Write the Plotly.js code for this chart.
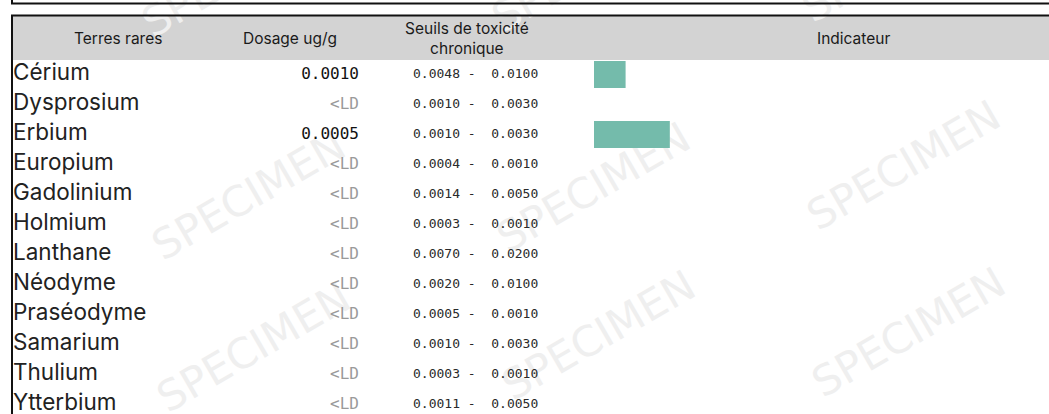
<!DOCTYPE html>
<html>
<head>
<meta charset="utf-8">
<script src="https://cdn.plot.ly/plotly-3.0.1.min.js"></script>
<style>html,body{margin:0;padding:0;background:#fff;}#chart{width:1049px;height:414px;}</style>
</head>
<body>
<div id="chart"></div>
<script>
// ---- data ----
const elements = ["Cérium","Dysprosium","Erbium","Europium","Gadolinium","Holmium","Lanthane","Néodyme","Praséodyme","Samarium","Thulium","Ytterbium"];
const dosage = [0.0010, null, 0.0005, null, null, null, null, null, null, null, null, null]; // null = <LD
const seuilMin = [0.0048, 0.0010, 0.0010, 0.0004, 0.0014, 0.0003, 0.0070, 0.0020, 0.0005, 0.0010, 0.0003, 0.0011];
const seuilMax = [0.0100, 0.0030, 0.0030, 0.0010, 0.0050, 0.0010, 0.0200, 0.0100, 0.0010, 0.0030, 0.0010, 0.0050];
const headers = ["Terres rares", "Dosage ug/g", "Seuils de toxicité<br>chronique", "Indicateur"];
const watermark = "SPECIMEN";

// ---- layout constants (pixels) ----
const W = 1049, H = 414;
const ROW = 30, FIRST = 74.5;           // row pitch, centre of first row
const yTop = -FIRST / ROW, yBot = (H - FIRST) / ROW;

const MAIN = "Inter, 'DejaVu Sans', sans-serif";
const MONO = "'DejaVu Sans Mono', monospace";

const indicator = dosage.map((d, i) => d === null ? 0 : d / seuilMin[i]);
const dosageText = dosage.map(d => d === null ? "&lt;LD" : d.toFixed(4));
const dosageColor = dosage.map(d => d === null ? "#9a9a9a" : "#111111");
const seuilText = seuilMin.map((m, i) => m.toFixed(4) + " -\u00a0\u00a0" + seuilMax[i].toFixed(4));

const traces = [
  {type: "scatter", mode: "text", x: elements.map(() => 13), y: elements, text: elements,
   textposition: "middle right", textfont: {family: MAIN, size: 22.5, color: "#222"}, hoverinfo: "skip", cliponaxis: false},
  {type: "scatter", mode: "text", x: elements.map(() => 359), y: elements, text: dosageText,
   textposition: "middle left", textfont: {family: MONO, size: 16, color: dosageColor}, hoverinfo: "skip", cliponaxis: false},
  {type: "scatter", mode: "text", x: elements.map(() => 413), y: elements, text: seuilText,
   textposition: "middle right", textfont: {family: MONO, size: 13, color: "#2a2a2a"}, hoverinfo: "skip", cliponaxis: false},
  {type: "bar", orientation: "h", x: indicator, y: elements, xaxis: "x2", yaxis: "y",
   marker: {color: "#74bbab"}, width: 0.9, hoverinfo: "skip"}
];

// watermark as svg image
const wmPos = [[240,-25],[590,-30],[900,-40],[250,198],[595,190],[905,168],[255,350],[600,338],[910,335]];
let svg = '<svg xmlns="http://www.w3.org/2000/svg" width="' + W + '" height="' + H + '">';
wmPos.forEach(p => {
  svg += '<text x="' + p[0] + '" y="' + p[1] + '" text-anchor="middle" dominant-baseline="middle" font-family="DejaVu Sans, sans-serif" font-size="42" fill="#efefef" transform="rotate(-30 ' + p[0] + ' ' + p[1] + ')">' + watermark + '</text>';
});
svg += '</svg>';
const svgUri = "data:image/svg+xml;charset=utf-8," + encodeURIComponent(svg);

const hdrY = 38;
const annotations = [
  {text: headers[0], x: 118, y: H - hdrY},
  {text: headers[1], x: 290, y: H - hdrY},
  {text: headers[2], x: 467, y: H - hdrY},
  {text: headers[3], x: 853, y: H - hdrY}
].map(a => Object.assign(a, {xref: "x", yref: "y3", showarrow: false, xanchor: "center", yanchor: "middle",
  font: {family: MAIN, size: 15.5, color: "#1a1a1a"}}));

const layout = {
  width: W, height: H,
  margin: {l: 0, r: 0, t: 0, b: 0, pad: 0},
  paper_bgcolor: "#fff", plot_bgcolor: "rgba(0,0,0,0)",
  showlegend: false,
  xaxis: {range: [0, W], domain: [0, 1], visible: false, fixedrange: true},
  xaxis2: {range: [0, 3], domain: [594 / W, 1], anchor: "y", visible: false, fixedrange: true},
  yaxis: {type: "category", categoryarray: elements, range: [yBot, yTop], visible: false, fixedrange: true},
  yaxis3: {range: [0, H], domain: [0, 1], overlaying: "y", anchor: "x", visible: false, fixedrange: true},
  shapes: [
    {type: "rect", xref: "paper", yref: "paper", x0: 13 / W, x1: 1, y0: 1 - 60 / H, y1: 1 - 16 / H,
     fillcolor: "#d3d3d3", line: {width: 0}, layer: "below"},
    {type: "line", xref: "paper", yref: "paper", x0: 11 / W, x1: 1, y0: 1 - 3.5 / H, y1: 1 - 3.5 / H, line: {color: "#111", width: 2}},
    {type: "line", xref: "paper", yref: "paper", x0: 12 / W, x1: 12 / W, y0: 1, y1: 1 - 4 / H, line: {color: "#111", width: 2}},
    {type: "line", xref: "paper", yref: "paper", x0: 11 / W, x1: 1, y0: 1 - 15.5 / H, y1: 1 - 15.5 / H, line: {color: "#111", width: 2}},
    {type: "line", xref: "paper", yref: "paper", x0: 12 / W, x1: 12 / W, y0: 1 - 15 / H, y1: 0, line: {color: "#111", width: 2}}
  ],
  images: [{source: svgUri, xref: "x", yref: "y", x: 0, y: yTop, sizex: W, sizey: H / ROW,
    xanchor: "left", yanchor: "top", sizing: "stretch", layer: "below"}],
  annotations: annotations
};

Plotly.newPlot("chart", traces, layout, {staticPlot: true, displayModeBar: false});
</script>
</body>
</html>
